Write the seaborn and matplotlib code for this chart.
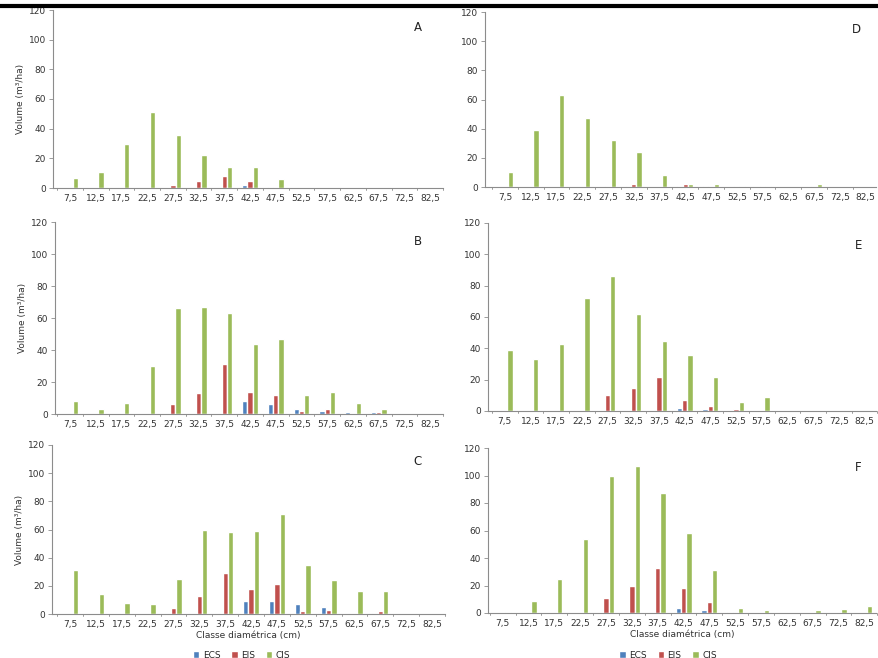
import matplotlib
matplotlib.use("Agg")
import matplotlib.pyplot as plt
from matplotlib.patches import Patch
from matplotlib.lines import Line2D
import pandas as pd
import seaborn as sns

# Diameter classes (cm)
classes = ["7,5", "12,5", "17,5", "22,5", "27,5", "32,5", "37,5", "42,5",
           "47,5", "52,5", "57,5", "62,5", "67,5", "72,5", "82,5"]
groups = ["ECS", "EIS", "CIS"]
palette = {"ECS": "#4F81BD", "EIS": "#C0504D", "CIS": "#9BBB59"}

# Volume (m3/ha) per diameter class, one list per group and panel
a_ecs = [0, 0, 0, 0, 0, 1, 0, 2, 1, 0, 0, 0, 0, 0, 0]
a_eis = [0, 0, 0, 0, 2, 5, 8, 5, 1, 0, 0, 0, 0, 0, 0]
a_cis = [7, 11, 30, 51, 36, 22, 14, 14, 6, 0, 0, 0, 0, 0, 0]

b_ecs = [0, 0, 0, 0, 0, 0, 0, 8, 6, 3, 2, 1, 1, 0, 0]
b_eis = [0, 0, 0, 0, 6, 13, 31, 14, 12, 2, 3, 0, 1, 0, 0]
b_cis = [8, 3, 7, 30, 66, 67, 63, 44, 47, 12, 14, 7, 3, 0, 0]

c_ecs = [0, 0, 0, 0, 0, 0, 0, 9, 9, 7, 5, 0, 1, 0, 0]
c_eis = [0, 0, 0, 0, 4, 13, 29, 18, 21, 2, 3, 0, 2, 0, 0]
c_cis = [31, 14, 8, 7, 25, 60, 58, 59, 71, 35, 24, 16, 16, 0, 0]

d_ecs = [0, 0, 0, 0, 0, 1, 0, 1, 1, 0, 0, 0, 0, 0, 0]
d_eis = [0, 0, 0, 0, 1, 2, 0, 2, 1, 1, 1, 0, 1, 0, 0]
d_cis = [10, 39, 63, 47, 32, 24, 8, 2, 2, 1, 1, 0, 2, 0, 0]

e_ecs = [0, 0, 0, 0, 0, 0, 0, 2, 1, 0, 0, 0, 0, 0, 0]
e_eis = [0, 0, 0, 0, 10, 15, 22, 7, 3, 1, 0, 0, 0, 0, 0]
e_cis = [39, 33, 43, 72, 86, 62, 45, 36, 22, 6, 9, 0, 0, 0, 0]

f_ecs = [0, 0, 0, 0, 0, 0, 0, 4, 2, 1, 0, 0, 0, 0, 0]
f_eis = [0, 0, 0, 0, 11, 20, 33, 18, 8, 0, 0, 0, 0, 0, 0]
f_cis = [1, 9, 25, 54, 100, 107, 87, 58, 31, 4, 2, 0, 2, 3, 5]

panels = {
    "A": (a_ecs, a_eis, a_cis),
    "B": (b_ecs, b_eis, b_cis),
    "C": (c_ecs, c_eis, c_cis),
    "D": (d_ecs, d_eis, d_cis),
    "E": (e_ecs, e_eis, e_cis),
    "F": (f_ecs, f_eis, f_cis),
}

# axes placement [left, bottom, width, height] and x-limits
W, H = 879, 658
def rect(x0, x1, ytop, ybot):
    return [x0 / W, 1 - ybot / H, (x1 - x0) / W, (ybot - ytop) / H]

layout = {
    "A": (rect(53, 443, 10, 188), (-0.66, 14.5)),
    "B": (rect(55, 443, 222, 414), (-0.58, 14.5)),
    "C": (rect(52, 445, 445, 614), (-0.70, 14.5)),
    "D": (rect(485, 876, 12, 187), (-0.77, 14.4)),
    "E": (rect(488, 876, 223, 411), (-0.65, 14.45)),
    "F": (rect(488, 876, 448, 613), (-0.57, 14.45)),
}
letter_pos = {"A": (0.935, 0.9), "B": (0.935, 0.9), "C": (0.93, 0.9),
              "D": (0.95, 0.9), "E": (0.955, 0.88), "F": (0.955, 0.88)}

sns.set_theme(style="white")
plt.rcParams["font.family"] = ["DejaVu Sans"]

fig = plt.figure(figsize=(W / 100, H / 100), dpi=100)
axis_grey = "#8C8C8C"

for name, (ecs, eis, cis) in panels.items():
    pos, xlim = layout[name]
    ax = fig.add_axes(pos)
    df = pd.DataFrame({
        "classe": classes * 3,
        "grupo": [g for g in groups for _ in classes],
        "volume": list(ecs) + list(eis) + list(cis),
    })
    sns.barplot(data=df, x="classe", y="volume", hue="grupo", order=classes,
                hue_order=groups, palette=palette, width=0.62, saturation=1,
                legend=False, ax=ax)
    ax.set_ylim(0, 120)
    ax.set_xlim(*xlim)
    ax.set_yticks(range(0, 121, 20))
    ax.tick_params(axis="y", labelsize=6.5, length=3, width=0.6,
                   colors=axis_grey, labelcolor="#333333", pad=2, left=True)
    ax.tick_params(axis="x", labelsize=6.5, length=0, labelcolor="#333333", pad=4)
    ax.set_xticks(range(len(classes)))
    ax.set_xticklabels(classes)
    for b in [i + 0.5 for i in range(-1, len(classes))]:
        ax.plot([b, b], [0, -1.5], color=axis_grey, lw=0.6, clip_on=False)
    for s in ["top", "right"]:
        ax.spines[s].set_visible(False)
    for s in ["left", "bottom"]:
        ax.spines[s].set_color(axis_grey)
        ax.spines[s].set_linewidth(0.8)
    ax.set_xlabel("")
    if name in ("A", "B", "C"):
        ax.set_ylabel("Volume (m³/ha)", fontsize=6.5, color="#333333", labelpad=3)
    else:
        ax.set_ylabel("")
    if name in ("C", "F"):
        ax.set_xlabel("Classe diamétrica (cm)", fontsize=6.5, color="#333333",
                      labelpad=2)
    lx, ly = letter_pos[name]
    ax.text(lx, ly, name, transform=ax.transAxes, fontsize=8.5,
            color="#222222", ha="center", va="center")

# group legends under the bottom panels
handles = [Patch(facecolor=palette[g], label=g) for g in groups]
for xc in (0.275, 0.76):
    fig.legend(handles=handles, loc="upper center", bbox_to_anchor=(xc, 0.018),
               ncol=3, frameon=False, fontsize=6.5, handlelength=0.7,
               handleheight=0.7, columnspacing=1.2, handletextpad=0.4,
               borderpad=0)

# heavy rule across the top of the figure
fig.add_artist(Line2D([0, 1], [1 - 5.5 / H, 1 - 5.5 / H], color="black",
                      lw=3, transform=fig.transFigure))

fig.savefig("out.png", dpi=100)
